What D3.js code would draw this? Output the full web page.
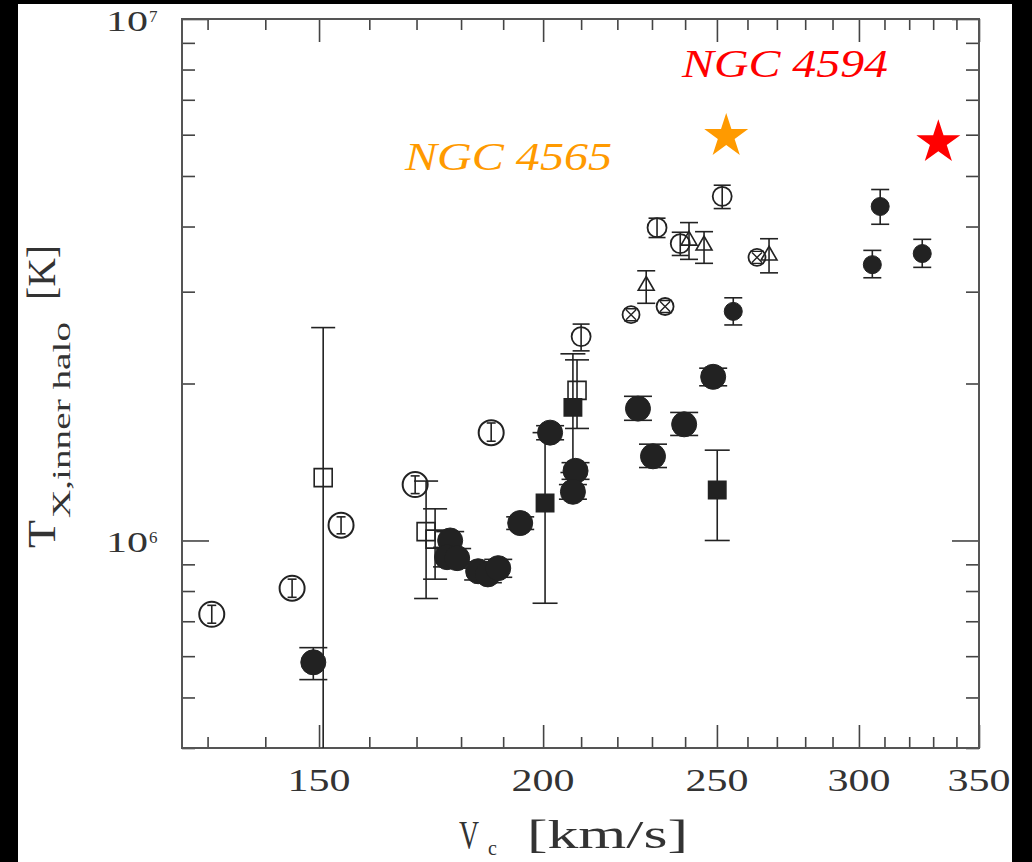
<!DOCTYPE html>
<html>
<head>
<meta charset="utf-8">
<script src="https://cdn.jsdelivr.net/npm/d3@7"></script>
<style>
html, body { margin: 0; padding: 0; background: #000; }
svg { display: block; }
text { font-family: "Liberation Serif", "DejaVu Serif", serif; fill: #333; }
</style>
</head>
<body>
<svg width="1032" height="862"></svg>
<script>
// ---- data: V_c [km/s], T [K], error bar low / high ----

// big open circles
var bigOpenV  = [130.7, 144.9, 154.3, 169.7, 187.1];
var bigOpenT  = [7.22e5, 8.10e5, 1.07e6, 1.28e6, 1.61e6];
var bigOpenLo = [6.94e5, 7.78e5, 1.03e6, 1.23e6, 1.55e6];
var bigOpenHi = [7.51e5, 8.43e5, 1.11e6, 1.33e6, 1.68e6];

// big filled circles
var bigFillV  = [148.9, 177.5, 176.8, 179.1, 184.0, 186.3, 188.8, 194.2, 201.8, 208.5, 207.8, 225.9, 230.3, 239.7, 248.8];
var bigFillT  = [5.84e5, 1.00e6, 9.29e5, 9.25e5, 8.73e5, 8.61e5, 8.85e5, 1.08e6, 1.61e6, 1.36e6, 1.24e6, 1.79e6, 1.45e6, 1.67e6, 2.06e6];
var bigFillLo = [5.41e5, 9.60e5, 8.90e5, 8.85e5, 8.40e5, 8.30e5, 8.50e5, 1.05e6, 1.56e6, 1.31e6, 1.20e6, 1.70e6, 1.38e6, 1.59e6, 1.98e6];
var bigFillHi = [6.23e5, 1.04e6, 9.70e5, 9.65e5, 9.10e5, 8.95e5, 9.20e5, 1.11e6, 1.66e6, 1.41e6, 1.28e6, 1.89e6, 1.53e6, 1.76e6, 2.14e6];

// small filled circles
var smallFillV  = [255.3, 305.2, 308.3, 325.4];
var smallFillT  = [2.75e6, 3.38e6, 4.37e6, 3.55e6];
var smallFillLo = [2.59e6, 3.19e6, 4.04e6, 3.34e6];
var smallFillHi = [2.92e6, 3.60e6, 4.71e6, 3.78e6];

// small open circles
var smallOpenV  = [210.0, 231.5, 238.5, 251.7];
var smallOpenT  = [2.46e6, 3.98e6, 3.71e6, 4.57e6];
var smallOpenLo = [2.31e6, 3.81e6, 3.52e6, 4.33e6];
var smallOpenHi = [2.60e6, 4.15e6, 3.90e6, 4.80e6];

// open triangles
var triV  = [228.3, 241.2, 245.9, 267.3];
var triT  = [3.08e6, 3.76e6, 3.68e6, 3.52e6];
var triLo = [2.85e6, 3.46e6, 3.40e6, 3.26e6];
var triHi = [3.29e6, 4.07e6, 3.91e6, 3.79e6];

// crossed circles
var crossV = [223.9, 233.9, 263.2];
var crossT = [2.71e6, 2.81e6, 3.49e6];

// open squares
var openSqV  = [150.8, 172.1, 174.1, 208.9];
var openSqT  = [1.32e6, 1.04e6, 1.006e6, 1.94e6];
var openSqLo = [3.0e5, 7.74e5, 8.43e5, 1.64e6];
var openSqHi = [2.56e6, 1.30e6, 1.15e6, 2.22e6];

// filled squares
var fillSqV  = [200.5, 207.8, 250.1];
var fillSqT  = [1.18e6, 1.80e6, 1.25e6];
var fillSqLo = [7.58e5, 1.35e6, 1.00e6];
var fillSqHi = [1.61e6, 2.28e6, 1.49e6];

// highlighted galaxies
var starNames = ["NGC 4565", "NGC 4594"];
var starV = [253.0, 332.2];
var starT = [5.96e6, 5.80e6];

// axis ticks
var xMajor = [150, 200, 250, 300, 350];
var xMinor = [130, 140, 160, 170, 180, 190, 210, 220, 230, 240, 260, 270, 280, 290, 310, 320, 330, 340];
var yMajor = [1e6, 1e7];
var yMinor = [4e5, 5e5, 6e5, 7e5, 8e5, 9e5, 2e6, 3e6, 4e6, 5e6, 6e6, 7e6, 8e6, 9e6];
var yLabels = ["6", "7"];

// ---- layout ----
var svg = d3.select("svg");
var pad = { left: 182, right: 979, top: 19, bottom: 748 };
var ink = "#222";

svg.append("rect")
   .attr("x", 18).attr("y", 4)
   .attr("width", 994).attr("height", 858)
   .attr("fill", "#fff");

var x = d3.scaleLog().domain([125.8, 350]).range([pad.left, pad.right]);
var y = d3.scaleLog().domain([4e5, 1e7]).range([pad.bottom, pad.top]);

function rows(V, T, Lo, Hi) {
  return V.map((v, i) => ({ v: v, t: T[i], lo: Lo ? Lo[i] : null, hi: Hi ? Hi[i] : null }));
}

// ticks on all four sides, pointing inward
function ticks(axis, scale, values, size, tr) {
  svg.append("g")
     .attr("transform", tr)
     .call(axis(scale).tickValues(values).tickSize(size).tickFormat(""))
     .call(g => g.select(".domain").remove())
     .selectAll("line")
       .attr("stroke", "#444")
       .attr("stroke-width", 1.6);
}
ticks(d3.axisBottom, x, xMajor, -23, "translate(0," + pad.bottom + ")");
ticks(d3.axisBottom, x, xMinor, -11, "translate(0," + pad.bottom + ")");
ticks(d3.axisTop, x, xMajor, -23, "translate(0," + pad.top + ")");
ticks(d3.axisTop, x, xMinor, -11, "translate(0," + pad.top + ")");
ticks(d3.axisLeft, y, yMajor, -27, "translate(" + pad.left + ",0)");
ticks(d3.axisLeft, y, yMinor, -13, "translate(" + pad.left + ",0)");
ticks(d3.axisRight, y, yMajor, -27, "translate(" + pad.right + ",0)");
ticks(d3.axisRight, y, yMinor, -13, "translate(" + pad.right + ",0)");

svg.append("rect")
   .attr("x", pad.left).attr("y", pad.top)
   .attr("width", pad.right - pad.left).attr("height", pad.bottom - pad.top)
   .attr("fill", "none")
   .attr("stroke", "#555")
   .attr("stroke-width", 2);

// tick labels
svg.selectAll(".xlab")
  .data(xMajor)
  .enter()
  .append("text")
    .attr("class", "xlab")
    .attr("x", d => x(d))
    .attr("y", 791)
    .attr("text-anchor", "middle")
    .attr("font-size", 31)
    .attr("textLength", 63)
    .attr("lengthAdjust", "spacingAndGlyphs")
    .text(d => d);

yMajor.forEach((d, i) => {
  svg.append("text")
     .attr("x", 148).attr("y", y(d) + 12)
     .attr("text-anchor", "end")
     .attr("font-size", 30)
     .attr("textLength", 42)
     .attr("lengthAdjust", "spacingAndGlyphs")
     .text("10");
  svg.append("text")
     .attr("x", 149).attr("y", y(d) + 3)
     .attr("font-size", 17)
     .text(yLabels[i]);
});

// axis titles
svg.append("text").attr("x", 459).attr("y", 848).attr("font-size", 40)
   .attr("textLength", 20).attr("lengthAdjust", "spacingAndGlyphs").text("V");
svg.append("text").attr("x", 488).attr("y", 855).attr("font-size", 20).text("c");
svg.append("text").attr("x", 527).attr("y", 848).attr("font-size", 40)
   .attr("textLength", 161).attr("lengthAdjust", "spacingAndGlyphs").text("[km/s]");

var yTitle = svg.append("g").attr("transform", "translate(55,548) rotate(-90)");
yTitle.append("text").attr("x", 0).attr("y", 0).attr("font-size", 40)
      .attr("textLength", 28).attr("lengthAdjust", "spacingAndGlyphs").text("T");
yTitle.append("text").attr("x", 30).attr("y", 15).attr("font-size", 25)
      .attr("textLength", 196).attr("lengthAdjust", "spacingAndGlyphs").text("X,inner halo");
yTitle.append("text").attr("x", 248).attr("y", 0).attr("font-size", 40)
      .attr("textLength", 55).attr("lengthAdjust", "spacingAndGlyphs").text("[K]");

// ---- marks ----
svg.append("clipPath").attr("id", "plotclip")
   .append("rect")
     .attr("x", pad.left).attr("y", pad.top)
     .attr("width", pad.right - pad.left).attr("height", pad.bottom - pad.top);

var plot = svg.append("g").attr("clip-path", "url(#plotclip)");

function errorBars(data, cap) {
  var g = plot.append("g").attr("stroke", ink).attr("stroke-width", 1.6);
  g.selectAll(".bar")
    .data(data)
    .enter()
    .append("line")
      .attr("x1", d => x(d.v)).attr("x2", d => x(d.v))
      .attr("y1", d => y(d.lo)).attr("y2", d => y(d.hi));
  ["lo", "hi"].forEach(k => {
    g.selectAll(".cap-" + k)
      .data(data)
      .enter()
      .append("line")
        .attr("x1", d => x(d.v) - cap / 2).attr("x2", d => x(d.v) + cap / 2)
        .attr("y1", d => y(d[k])).attr("y2", d => y(d[k]));
  });
}

function circles(data, r, filled, sw) {
  plot.append("g")
    .selectAll("circle")
    .data(data)
    .enter()
    .append("circle")
      .attr("cx", d => x(d.v))
      .attr("cy", d => y(d.t))
      .attr("r", r)
      .attr("fill", filled ? ink : "none")
      .attr("stroke", ink)
      .attr("stroke-width", sw);
}

function symbols(data, type, size, filled) {
  plot.append("g")
    .selectAll("path")
    .data(data)
    .enter()
    .append("path")
      .attr("transform", d => "translate(" + x(d.v) + "," + y(d.t) + ")")
      .attr("d", d3.symbol(type).size(size))
      .attr("fill", filled ? ink : "none")
      .attr("stroke", ink)
      .attr("stroke-width", 1.6);
}

var openSq = rows(openSqV, openSqT, openSqLo, openSqHi);
errorBars(openSq, 24);
symbols(openSq, d3.symbolSquare, 324, false);

var fillSq = rows(fillSqV, fillSqT, fillSqLo, fillSqHi);
errorBars(fillSq, 25);
symbols(fillSq, d3.symbolSquare, 300, true);

var bigOpen = rows(bigOpenV, bigOpenT, bigOpenLo, bigOpenHi);
errorBars(bigOpen, 9);
circles(bigOpen, 12.5, false, 2);

var bigFill = rows(bigFillV, bigFillT, bigFillLo, bigFillHi);
errorBars(bigFill, 28);
circles(bigFill, 12.5, true, 1);

var smallOpen = rows(smallOpenV, smallOpenT, smallOpenLo, smallOpenHi);
errorBars(smallOpen, 17);
circles(smallOpen, 9.5, false, 1.8);

var tri = rows(triV, triT, triLo, triHi);
errorBars(tri, 18);
symbols(tri, d3.symbolTriangle, 110, false);

var cross = rows(crossV, crossT);
circles(cross, 8.5, false, 1.8);
plot.append("g")
  .selectAll("path")
  .data(cross)
  .enter()
  .append("path")
    .attr("transform", d => "translate(" + x(d.v) + "," + y(d.t) + ")")
    .attr("d", "M-5,-5L5,5M-5,5L5,-5M-7,-6H7M-7,6H7")
    .attr("fill", "none")
    .attr("stroke", ink)
    .attr("stroke-width", 1.4);

var smallFill = rows(smallFillV, smallFillT, smallFillLo, smallFillHi);
errorBars(smallFill, 18);
circles(smallFill, 9, true, 1);

// stars and names
var starColors = ["#ff9a00", "#ff0000"];
var nameX = [405, 682];
var nameY = [170, 77];
var nameW = [207, 206];

svg.selectAll(".star")
  .data(starV)
  .enter()
  .append("path")
    .attr("class", "star")
    .attr("transform", (d, i) => "translate(" + x(d) + "," + y(starT[i]) + ")")
    .attr("d", d3.symbol(d3.symbolStar).size(600))
    .attr("fill", (d, i) => starColors[i]);

svg.selectAll(".name")
  .data(starNames)
  .enter()
  .append("text")
    .attr("class", "name")
    .attr("x", (d, i) => nameX[i])
    .attr("y", (d, i) => nameY[i])
    .attr("font-size", 40)
    .attr("font-style", "italic")
    .attr("textLength", (d, i) => nameW[i])
    .attr("lengthAdjust", "spacingAndGlyphs")
    .style("fill", (d, i) => starColors[i])
    .text(d => d);
</script>
</body>
</html>
